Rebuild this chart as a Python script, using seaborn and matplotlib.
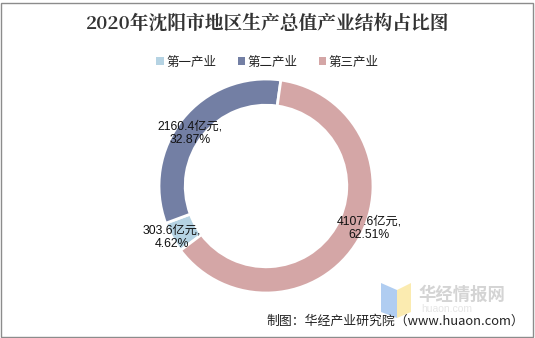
import numpy as np
import matplotlib
matplotlib.use("Agg")
import matplotlib.pyplot as plt
from matplotlib.patches import Rectangle, Polygon
import seaborn as sns

sns.set_theme(style="white")
plt.rcParams['font.family'] = ['Liberation Sans', 'Noto Sans CJK SC', 'DejaVu Sans']

# ---- data ----
categories = ["第一产业", "第二产业", "第三产业"]
values = [303.6, 2160.4, 4107.6]
percents = ["4.62%", "32.87%", "62.51%"]
colors = ["#b5d3e3", "#737fa4", "#d4a6a6"]
title = "2020年沈阳市地区生产总值产业结构占比图"
source = "制图：华经产业研究院（www.huaon.com）"

W, H = 535, 338
fig = plt.figure(figsize=(W / 100, H / 100), dpi=100)
fig.patch.set_facecolor("white")

# outer border
fig.add_artist(Rectangle((1.5 / W, 1.5 / H), (W - 4) / W, (H - 4) / H,
                         transform=fig.transFigure, fill=False,
                         edgecolor="#8c8c8c", linewidth=1.0))

# pie axes
cx, cy, R = 266, 186, 107
ax = fig.add_axes([(cx - R) / W, (H - cy - R) / H, 2 * R / W, 2 * R / H])
wedges, _ = ax.pie(values, colors=colors, startangle=217, counterclock=False,
                   radius=1.0,
                   wedgeprops=dict(width=0.245, edgecolor="white", linewidth=2))
ax.set_xlim(-1, 1)
ax.set_ylim(-1, 1)
ax.set_aspect("auto")
ax.axis("off")

# data labels
label_r = [1.0, 0.86, 1.04]
label_da = [0, 4, 8]
for w, v, p, r, da in zip(wedges, values, percents, label_r, label_da):
    mid = np.deg2rad((w.theta1 + w.theta2) / 2 + da)
    ax.text(r * np.cos(mid), r * np.sin(mid), f"{v}亿元,\n{p}",
            ha="center", va="center", fontsize=8.8, color="#111111",
            linespacing=1.2, clip_on=False)

# title
fig.text(0.5, 1 - 24 / H, title, ha="center", va="center", fontsize=13.5,
         fontweight="bold", color="#333333",
         family=['Noto Serif CJK SC', 'Noto Sans CJK SC', 'DejaVu Sans'])

# legend
handles = [Rectangle((0, 0), 1, 1, facecolor=c, edgecolor="none") for c in colors]
leg = fig.legend(handles, categories, loc="center", bbox_to_anchor=(0.5, 1 - 62 / H),
                 ncol=3, frameon=False, handlelength=0.6,
                 handleheight=0.6, handletextpad=0.2, columnspacing=1.7,
                 prop={'family': ['Noto Sans CJK SC', 'DejaVu Sans'], 'size': 9})
for t in leg.get_texts():
    t.set_color("#222222")

# watermark logo
fig.add_artist(Polygon([(381 / W, 1 - 283 / H), (397 / W, 1 - 290 / H),
                        (397 / W, 1 - 318 / H), (381 / W, 1 - 312 / H)],
                       closed=True, transform=fig.transFigure,
                       facecolor="#a8c8f0", edgecolor="none", alpha=0.9))
fig.add_artist(Polygon([(397 / W, 1 - 290 / H), (411 / W, 1 - 283 / H),
                        (411 / W, 1 - 312 / H), (397 / W, 1 - 318 / H)],
                       closed=True, transform=fig.transFigure,
                       facecolor="#fbe9a8", edgecolor="none", alpha=0.9))
fig.text(418 / W, 1 - 295 / H, "华经情报网", ha="left", va="center",
         fontsize=12.5, fontweight="bold", color="#d4d4d4",
         family=['Noto Sans CJK SC', 'DejaVu Sans'])
fig.text(421 / W, 1 - 309 / H, "huaon.com", ha="left", va="center",
         fontsize=7.5, color="#e6e6e6")

# source
fig.text(524 / W, 1 - 321 / H, source, ha="right", va="center",
         fontsize=9.3, color="#222222",
         family=['Noto Sans CJK SC', 'DejaVu Sans'])

fig.savefig("out.png", dpi=100, facecolor="white")
